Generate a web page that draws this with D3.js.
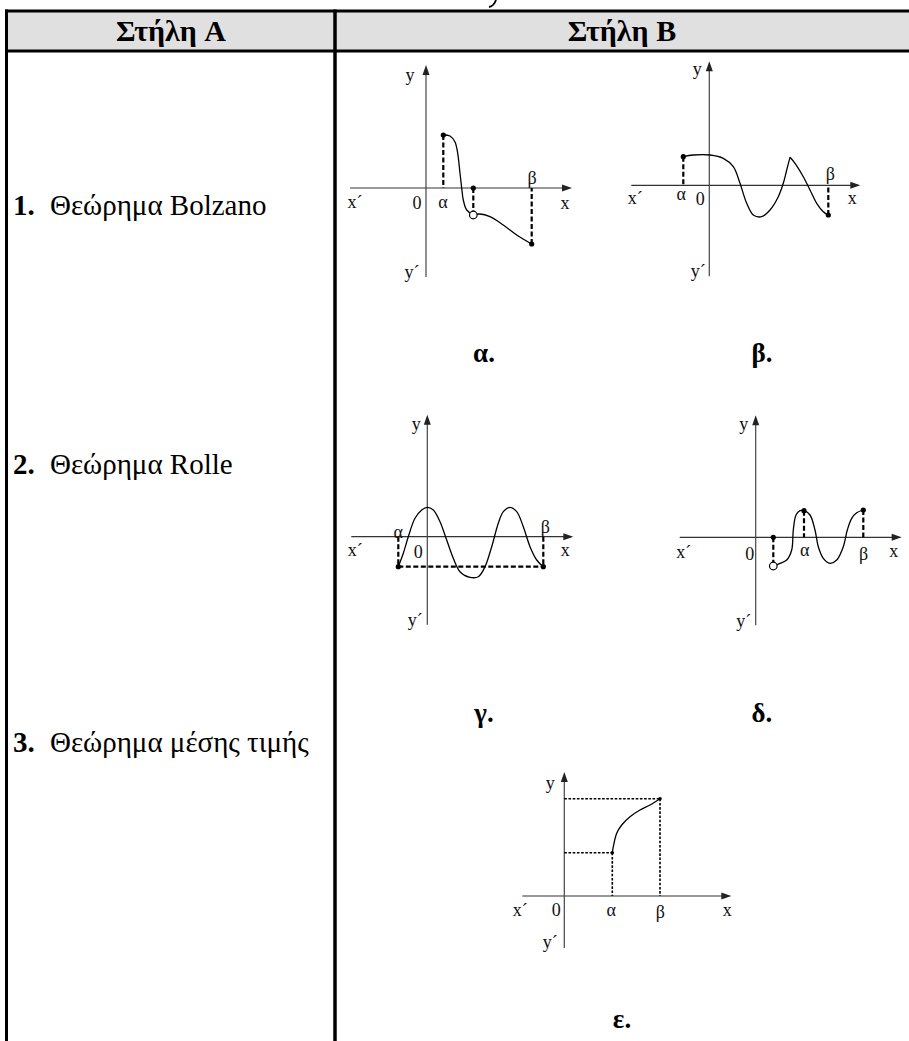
<!DOCTYPE html>
<html><head><meta charset="utf-8">
<script src="https://cdn.jsdelivr.net/npm/d3@7/dist/d3.min.js"></script>
<style>body{margin:0;background:#fff}svg{display:block}</style>
</head><body><svg id="c" width="909" height="1041"></svg>
<script>
// ---------------- DATA ----------------
const headerLabels = ["Στήλη A", "Στήλη B"];
const theoremNumbers = ["1.", "2.", "3."];
const theoremNames = ["Θεώρημα Bolzano", "Θεώρημα Rolle", "Θεώρημα μέσης τιμής"];
const panelLabels = ["α.", "β.", "γ.", "δ.", "ε."];
const axisLabelTexts = ["y", "x´", "0", "α", "β", "x", "y´"];

// axis extents per panel (units)
const axisXExtent = [[-7.6, 14.6], [-7.8, 15.1], [-7.6, 14.6], [-7.6, 14.6], [-4.2, 16.7]];
const axisYExtent = [[-8.9, 12.3], [-9.1, 12.4], [-8.8, 12.2], [-8.8, 12.2], [-5.2, 12.4]];

// curves (x, y) in axis units
const curveAlpha1 = [[1.73,5.3],[2.4,5.2],[2.9,4.6],[3.17,3.47],[3.4,1.47],[3.57,0],[3.73,-1.2],[4.07,-2.2],[4.73,-2.7]];
const curveAlpha2 = [[4.73,-2.7],[5.4,-2.6],[6.4,-2.87],[7.73,-3.7],[9.07,-4.7],[10.57,-5.6]];
const curveBeta1 = [[-2.6,2.86],[-1.6,3.03],[0.07,3.03],[1.4,2.7],[2.4,1.86],[3.07,0.2],[3.74,-1.8],[4.4,-2.97],[5.24,-3.14],[6.07,-2.47],[6.9,-1.14],[7.4,0.2],[7.74,1.53],[8.07,2.8]];
const curveBeta2 = [[8.07,2.8],[8.57,2.2],[9.4,0.86],[10.07,-0.47],[10.74,-1.8],[11.4,-2.64],[11.9,-2.97]];
const curveGamma = [[-2.9,-3.0],[-2.4,-1.66],[-1.9,0],[-1.23,1.84],[-0.56,2.67],[0,2.94],[0.6,2.67],[1.27,1.5],[1.94,-0.33],[2.6,-2.16],[3.27,-3.5],[4.27,-4.06],[5.1,-4.0],[5.77,-3.0],[6.44,-1.0],[7.1,1.34],[7.6,2.5],[8.27,2.94],[8.94,2.5],[9.6,1.0],[10.27,-1.0],[10.94,-2.33],[11.6,-3.0]];
const curveDelta = [[1.76,-2.87],[2.43,-2.6],[3.1,-2.27],[3.6,-1.27],[3.76,0.73],[4.03,2.23],[4.43,2.66],[4.83,2.66],[5.43,2.23],[5.93,0.73],[6.26,-0.94],[6.76,-2.1],[7.43,-2.6],[8.1,-2.27],[8.76,-0.94],[9.16,0.73],[9.6,1.9],[10.1,2.46],[10.76,2.73]];
const curveEpsilon = [[4.8,4.33],[4.9,4.93],[5.24,6.27],[5.74,7.1],[6.57,7.93],[7.57,8.6],[8.57,9.1],[9.57,9.73]];

// filled points, open points, guide segments per panel
const filledPoints = [
  [[1.73,5.3],[4.73,0],[10.57,-5.6]],
  [[-2.6,2.86],[11.9,-2.97]],
  [[-2.9,-3.0],[11.6,-3.0]],
  [[1.76,0],[4.83,2.66],[10.76,2.73]],
  [[4.8,4.33],[9.57,9.73]]
];
const openPoints = [[[4.73,-2.7]], [], [], [[1.76,-2.87]], []];
const guideSegments = [
  [[[1.73,5.3],[1.73,0]], [[4.73,0],[4.73,-2.7]], [[10.57,-5.6],[10.57,0]]],
  [[[-2.6,2.86],[-2.6,0]], [[11.9,-2.97],[11.9,0]]],
  [[[-2.9,0],[-2.9,-3.0]], [[11.6,0],[11.6,-3.0]], [[-2.9,-3.0],[11.6,-3.0]]],
  [[[1.76,0],[1.76,-2.87]], [[4.83,2.66],[4.83,0]], [[10.76,2.73],[10.76,0]]],
  [[[0,4.33],[4.8,4.33]], [[4.8,4.33],[4.8,0]], [[0,9.73],[9.57,9.73]], [[9.57,9.73],[9.57,0]]]
];
const panelCurves = [[curveAlpha1, curveAlpha2], [curveBeta1, curveBeta2], [curveGamma], [curveDelta], [curveEpsilon]];

// ---------------- LAYOUT ----------------
const UNIT = 10;
const panelOrigins = [[426,188],[709.3,185.3],[427.3,536.7],[755.7,537.3],[564.3,896]];
const labelOffsets = [
  [[-16,-113],[-71,14],[-9,15],[17,14],[106,-10],[139,15],[-14,84]],
  [[-12,-117],[-74,12],[-9,13],[-28,8],[121,-12],[143,12],[-11,85]],
  [[-11,-113],[-72,13],[-9,15],[-29,-5],[118,-10],[138,13],[-12,83]],
  [[-12,-114],[-72,14],[-6,16],[49,12],[108,16],[138,13],[-12,83]],
  [[-14,-113],[-44,14],[-8,14],[47,14],[96,16],[163,14],[-14,46]]
];
const panelLabelPos = [[484,362],[762,362],[484,722],[762,722],[622,1028]];
const FONT = "'Liberation Serif','Times New Roman',serif";

const svg = d3.select("#c");

// table
svg.append("rect").attr("x",6).attr("y",11).attr("width",903).attr("height",40).attr("fill","#e0e0e0");
svg.append("line").attr("x1",5).attr("x2",909).attr("y1",11).attr("y2",11).attr("stroke","#000").attr("stroke-width",3);
svg.append("line").attr("x1",5).attr("x2",909).attr("y1",51).attr("y2",51).attr("stroke","#000").attr("stroke-width",3);
svg.append("line").attr("x1",6.5).attr("x2",6.5).attr("y1",9.5).attr("y2",1041).attr("stroke","#000").attr("stroke-width",3);
svg.append("line").attr("x1",335).attr("x2",335).attr("y1",9.5).attr("y2",1041).attr("stroke","#000").attr("stroke-width",3.5);

// tail of a glyph cut off above the table
svg.append("path").attr("d","M496,0 Q494,6 489,7").attr("fill","none").attr("stroke","#000").attr("stroke-width",1.8);

const headerX = [171, 622];
svg.selectAll(".hdr").data(headerLabels).join("text")
  .attr("x",(d,i)=>headerX[i]).attr("y",41).attr("text-anchor","middle")
  .attr("font-family",FONT).attr("font-weight","bold").attr("font-size",30).text(d=>d);

const rowBase = [215, 474, 752];
theoremNames.forEach((name,i)=>{
  const t = svg.append("text").attr("x",13).attr("y",rowBase[i]).attr("font-family",FONT).attr("font-size",29);
  t.append("tspan").attr("font-family",FONT).attr("font-weight","bold").text(theoremNumbers[i]);
  t.append("tspan").attr("font-family",FONT).attr("x",50).text(name);
});

// panels
panelCurves.forEach((curves,p)=>{
  const [ox,oy] = panelOrigins[p];
  const xs = d3.scaleLinear().domain([0,1]).range([ox, ox+UNIT]);
  const ys = d3.scaleLinear().domain([0,1]).range([oy, oy-UNIT]);
  const g = svg.append("g");
  const [x0,x1] = axisXExtent[p], [y0,y1] = axisYExtent[p];
  g.append("line").attr("x1",xs(x0)).attr("x2",xs(x1)-4).attr("y1",ys(0)).attr("y2",ys(0)).attr("stroke","#333").attr("stroke-width",1.2);
  g.append("line").attr("x1",xs(0)).attr("x2",xs(0)).attr("y1",ys(y0)).attr("y2",ys(y1)+4).attr("stroke","#444").attr("stroke-width",1.2);
  const tx = xs(x1), ty = ys(y1);
  g.append("path").attr("d",`M${tx},${ys(0)}L${tx-10},${ys(0)-3.5}L${tx-10},${ys(0)+3.5}Z`).attr("fill","#222");
  g.append("path").attr("d",`M${xs(0)},${ty}L${xs(0)-3.5},${ty+10}L${xs(0)+3.5},${ty+10}Z`).attr("fill","#222");

  const dotted = p===4;
  guideSegments[p].forEach(seg=>{
    g.append("line").attr("x1",xs(seg[0][0])).attr("y1",ys(seg[0][1])).attr("x2",xs(seg[1][0])).attr("y2",ys(seg[1][1]))
      .attr("stroke","#000").attr("stroke-width",dotted?1.6:2.2).attr("stroke-dasharray",dotted?"2.6,1.6":"5,2.5");
  });

  const line = d3.line().x(d=>xs(d[0])).y(d=>ys(d[1])).curve(d3.curveCatmullRom.alpha(0.5));
  curves.forEach(c=>{
    g.append("path").attr("d",line(c)).attr("fill","none").attr("stroke","#000").attr("stroke-width",1.3);
  });

  g.selectAll(".fp").data(filledPoints[p]).join("circle")
    .attr("cx",d=>xs(d[0])).attr("cy",d=>ys(d[1])).attr("r",dotted?1.8:2.6).attr("fill","#000");
  g.selectAll(".op").data(openPoints[p]).join("circle")
    .attr("cx",d=>xs(d[0])).attr("cy",d=>ys(d[1])).attr("r",3.8).attr("fill","#fff").attr("stroke","#000").attr("stroke-width",1.2);

  axisLabelTexts.forEach((txt,k)=>{
    const [dx,dy] = labelOffsets[p][k];
    g.append("text").attr("x",ox+dx).attr("y",oy+dy).attr("dy","0.35em").attr("text-anchor","middle")
      .attr("font-family",FONT).attr("font-size",18).attr("fill","#111").text(txt);
  });

  svg.append("text").attr("x",panelLabelPos[p][0]).attr("y",panelLabelPos[p][1]).attr("text-anchor","middle")
    .attr("font-family",FONT).attr("font-weight","bold").attr("font-size",27).text(panelLabels[p]);
});
</script></body></html>
